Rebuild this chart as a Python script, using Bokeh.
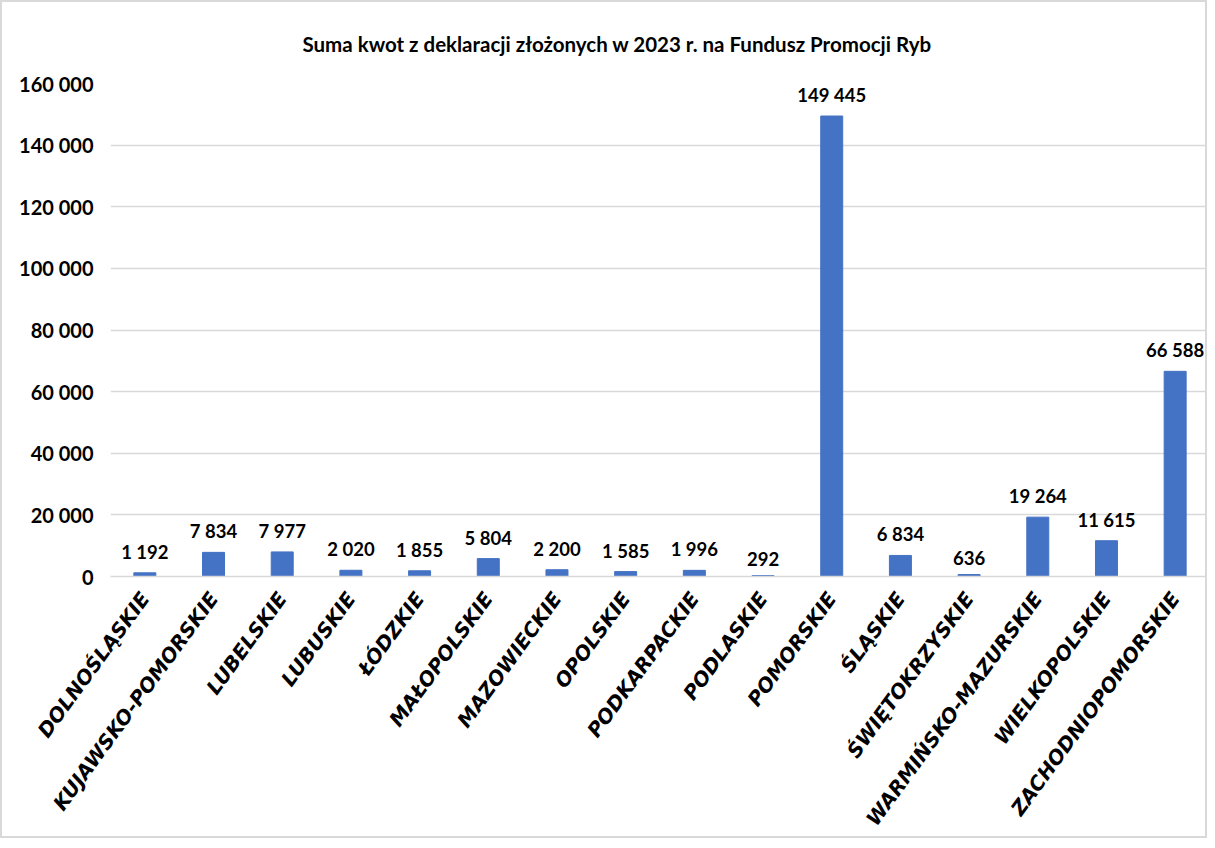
import math
from bokeh.plotting import figure
from bokeh.models import ColumnDataSource, FixedTicker, Title
from bokeh.core.properties import value
from bokeh.embed import file_html
from bokeh.resources import INLINE

regions = ["DOLNOŚLĄSKIE", "KUJAWSKO-POMORSKIE", "LUBELSKIE", "LUBUSKIE", "ŁÓDZKIE",
           "MAŁOPOLSKIE", "MAZOWIECKIE", "OPOLSKIE", "PODKARPACKIE", "PODLASKIE",
           "POMORSKIE", "ŚLĄSKIE", "ŚWIĘTOKRZYSKIE", "WARMIŃSKO-MAZURSKIE",
           "WIELKOPOLSKIE", "ZACHODNIOPOMORSKIE"]
amounts = [1192, 7834, 7977, 2020, 1855, 5804, 2200, 1585, 1996, 292,
           149445, 6834, 636, 19264, 11615, 66588]
y_ticks = [0, 20000, 40000, 60000, 80000, 100000, 120000, 140000, 160000]
title_text = "Suma kwot z deklaracji złożonych w 2023 r. na Fundusz Promocji  Ryb"

def fmt(v):
    return f"{v:,}".replace(",", " ")

src = ColumnDataSource(dict(region=regions, amount=amounts,
                            label=[fmt(v) for v in amounts]))

NUM_FONT = "Lato"

p = figure(x_range=regions, y_range=(0, 160000), width=1207, height=838,
           output_backend="svg", toolbar_location=None,
           min_border_left=108, min_border_right=0, min_border_top=81,
           min_border_bottom=264)
p.styles = {"border": "2px solid #d9d9d9"}
p.outline_line_color = None
p.background_fill_color = "white"
p.border_fill_color = "white"

p.vbar(x="region", top="amount", width=0.32, source=src,
       fill_color="#4472C4", line_color="#4472C4")

p.text(x="region", y="amount", text="label", source=src,
       text_align="center", text_baseline="bottom", y_offset=-10,
       text_font=value(NUM_FONT), text_font_style="bold",
       text_font_size="18.5px", text_color="#000000")

# grid
p.xgrid.grid_line_color = None
p.ygrid.grid_line_color = "#d9d9d9"
p.ygrid.grid_line_width = 1.5
p.ygrid.ticker = FixedTicker(ticks=y_ticks)

# y axis
p.yaxis.ticker = FixedTicker(ticks=y_ticks)
p.yaxis.major_label_overrides = {t: fmt(t) for t in y_ticks}
p.yaxis.axis_line_color = None
p.yaxis.major_tick_line_color = None
p.yaxis.minor_tick_line_color = None
p.yaxis.major_label_standoff = 11
p.yaxis.major_label_text_font = NUM_FONT
p.yaxis.major_label_text_font_style = "bold"
p.yaxis.major_label_text_font_size = "20px"
p.yaxis.major_label_text_color = "#000000"

# x axis
p.xaxis.axis_line_color = "#d9d9d9"
p.xaxis.axis_line_width = 1.5
p.xaxis.major_tick_line_color = None
p.xaxis.minor_tick_line_color = None
p.xaxis.major_label_orientation = 0.94
p.xaxis.major_label_standoff = 12
p.xaxis.major_label_text_font = "DejaVu Sans"
p.xaxis.major_label_text_font_style = "bold italic"
p.xaxis.major_label_text_font_size = "20px"
p.xaxis.major_label_text_color = "#000000"

# title
p.title = Title(text=title_text, align="left", offset=192, standoff=55,
                text_font=NUM_FONT, text_font_style="bold",
                text_font_size="20.5px", text_color="#000000")

open("out.html", "w").write(file_html(p, INLINE))
